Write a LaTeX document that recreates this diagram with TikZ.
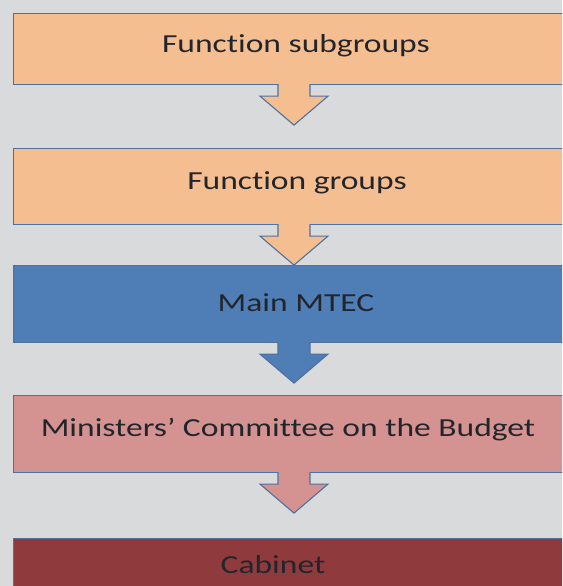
\documentclass[tikz,border=0pt]{standalone}
\usepackage{fontspec}
\setmainfont{Carlito}[Ligatures=NoCommon]
\usetikzlibrary{calc}
\definecolor{bggrey}{HTML}{D9DADC}
\definecolor{edgeblue}{HTML}{50709E}
\definecolor{peach}{HTML}{F5BE90}
\definecolor{mtecblue}{HTML}{4F7DB5}
\definecolor{budgetpink}{HTML}{D49390}
\definecolor{cabinetred}{HTML}{8F3B3D}
\definecolor{textdark}{HTML}{22262C}
% downward arrow hanging from the bottom of a stage box
\newcommand{\stagearrow}[2]{%
  \coordinate (#1 root) at (#1.south -| axis);
  \path[fill=#2,draw=edgeblue,line width=1.1pt,line join=miter]
    ($(#1 root)+(-16,-1)$) -- ++(0,12) -- ++(-18,0) -- ++(34,29)
    -- ++(34,-29) -- ++(-18,0) -- ++(0,-12);}
% captions are set wide, as in the source chart
\newcommand{\widetext}[1]{\scalebox{1.29}[1]{#1}}
\begin{document}
\begin{tikzpicture}[x=1pt,y=-1pt,
   stage/.style={draw=edgeblue,line width=1.1pt,anchor=north west,minimum width=600pt,inner sep=0pt},
   caption/.style={font=\fontsize{26}{30}\selectfont,text=textdark,inner sep=0pt}]
\useasboundingbox (0,0) rectangle (562,586);
\clip (0,0) rectangle (562,586);
\fill[bggrey] (0,0) rectangle (562,586);
\coordinate (axis) at (294,0);
% stage boxes
\node[stage,fill=peach,minimum height=71pt] (subgroups) at (13,13) {};
\node[stage,fill=peach,minimum height=76pt] (groups) at (13,148) {};
\node[stage,fill=mtecblue,minimum height=77pt] (mtec) at (13,265) {};
\node[stage,fill=budgetpink,minimum height=77pt] (budget) at (13,395) {};
\node[stage,fill=cabinetred,minimum height=70pt] (cabinet) at (13,538) {};
% arrows between stages
\stagearrow{subgroups}{peach}
\stagearrow{groups}{peach}
\stagearrow{mtec}{mtecblue}
\stagearrow{budget}{budgetpink}
% labels
\node[caption] (subgroups text) at (296,46) {\widetext{Function subgroups}};
\node[caption] (groups text) at (297,183) {\widetext{Function groups}};
\node[caption] (mtec text) at (296,303) {\widetext{Main MTEC}};
\node[caption] (budget text) at (288,430) {\widetext{Ministers’ Committee on the Budget}};
\node[caption] (cabinet text) at (273,565) {\widetext{Cabinet}};
\end{tikzpicture}
\end{document}
